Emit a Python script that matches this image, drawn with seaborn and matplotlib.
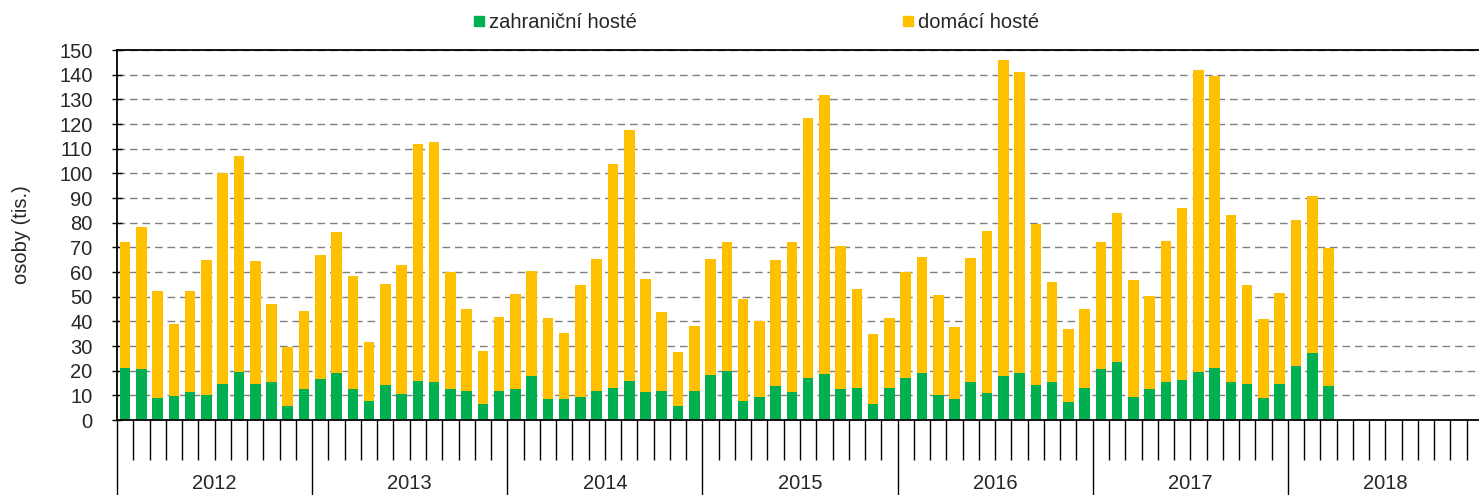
import matplotlib
matplotlib.use('Agg')
import matplotlib.pyplot as plt
import seaborn as sns
import pandas as pd
from matplotlib.lines import Line2D
from matplotlib.ticker import FixedLocator

# data (tis. osob), leden 2012 - brezen 2018
roky = ['2012', '2013', '2014', '2015', '2016', '2017', '2018']
zahranicni = [
    21.1, 20.8, 9.1, 9.6, 11.5, 10.3, 14.5, 19.4, 14.5, 15.6, 5.8, 12.7,
    16.8, 19.0, 12.5, 7.7, 14.3, 10.7, 16.0, 15.6, 12.7, 11.6, 6.6, 11.9,
    12.7, 17.7, 8.7, 8.7, 9.5, 11.9, 13.1, 16.0, 11.2, 11.9, 5.6, 11.9,
    18.1, 19.8, 7.9, 9.2, 13.8, 11.2, 17.1, 18.5, 12.7, 13.1, 6.4, 13.1,
    17.2, 19.0, 10.2, 8.4, 15.3, 11.1, 17.9, 19.2, 14.2, 15.3, 7.4, 13.1,
    20.8, 23.4, 9.5, 12.5, 15.3, 16.4, 19.6, 21.0, 15.6, 14.5, 8.8, 14.6,
    21.8, 27.1, 13.7,
]
domaci = [
    51.1, 57.4, 43.0, 29.3, 41.0, 54.7, 85.5, 87.5, 50.1, 31.5, 23.6, 31.3,
    50.2, 57.2, 45.8, 24.0, 40.7, 52.0, 95.8, 97.0, 47.5, 33.5, 21.3, 29.8,
    38.5, 42.9, 32.7, 26.6, 45.3, 53.5, 90.6, 101.5, 46.1, 31.8, 22.0, 26.4,
    47.0, 52.5, 41.2, 30.9, 51.0, 61.0, 105.3, 113.1, 58.0, 40.0, 28.5, 28.1,
    42.6, 47.2, 40.4, 29.4, 50.2, 65.5, 128.0, 121.7, 65.1, 40.7, 29.4, 32.0,
    51.5, 60.4, 47.1, 37.9, 57.4, 69.7, 122.1, 118.4, 67.4, 40.1, 32.1, 36.7,
    59.4, 63.9, 55.9,
]

ZELENA = '#00B050'
ZLUTA = '#FFC000'

mesice = [f'{r}-{m:02d}' for r in roky for m in range(1, 13)]
n = len(zahranicni)
df = pd.DataFrame({'mesic': mesice[:n], 'zahranicni': zahranicni, 'domaci': domaci})
df['celkem'] = df['zahranicni'] + df['domaci']

sns.set_theme(style='white')
plt.rcParams['font.family'] = ['Liberation Sans', 'DejaVu Sans']
FS = 14.5

W, H = 1479, 495
fig = plt.figure(figsize=(W / 100, H / 100), dpi=100)
ax = fig.add_axes([117 / W, 75 / H, (1483 - 117) / W, 370 / H])

# skladane sloupce: nejdriv celek (zluta), pres to zahranicni (zelena)
sns.barplot(data=df, x='mesic', y='celkem', order=mesice, color=ZLUTA,
            saturation=1, width=0.65, errorbar=None, edgecolor='none', ax=ax)
sns.barplot(data=df, x='mesic', y='zahranicni', order=mesice, color=ZELENA,
            saturation=1, width=0.65, errorbar=None, edgecolor='none', ax=ax)

ax.set_xlim(-0.5, len(mesice) - 0.5)
ax.set_ylim(0, 150)
ax.set_yticks(range(0, 151, 10))
ax.yaxis.grid(True, linestyle=(0, (5.5, 3.5)), color='#808080', linewidth=1)
ax.xaxis.grid(False)
ax.set_axisbelow(True)

for s in ax.spines.values():
    s.set_color('black')
    s.set_linewidth(1.3)

ax.set_ylabel('osoby (tis.)', fontsize=FS, labelpad=20)
ax.set_xlabel('')
ax.tick_params(axis='y', direction='inout', length=7, width=1, color='black',
               labelsize=FS, pad=14, left=True)

# popisky roku + mesicni cary
ax.set_xticks([5.5 + 12 * i for i in range(len(roky))])
ax.set_xticklabels(roky)
ax.tick_params(axis='x', which='major', length=0, labelsize=FS, pad=39)
hranice = [k - 0.5 for k in range(1, len(mesice)) if k % 12 != 0]
ax.xaxis.remove_overlapping_locs = False
ax.xaxis.set_minor_locator(FixedLocator(hranice))
ax.tick_params(axis='x', which='minor', bottom=True, length=29, width=1,
               color='black', direction='out')

sec = ax.secondary_xaxis('bottom')
sec.set_xticks([12 * i - 0.5 for i in range(len(roky) + 1)])
sec.set_xticklabels([])
sec.tick_params(length=56, width=1, color='black')
sec.spines['bottom'].set_visible(False)

handles = [Line2D([], [], marker='s', ls='', color=ZELENA, markersize=7.5),
           Line2D([], [], marker='s', ls='', color=ZLUTA, markersize=7.5)]
fig.legend(handles, ['zahraniční hosté', 'domácí hosté'], loc='center',
           bbox_to_anchor=(755 / W, 1 - 23 / H), ncol=2, frameon=False,
           fontsize=FS, columnspacing=13.1, handletextpad=0.1, handlelength=0.8)

fig.savefig('out.png', dpi=100)
